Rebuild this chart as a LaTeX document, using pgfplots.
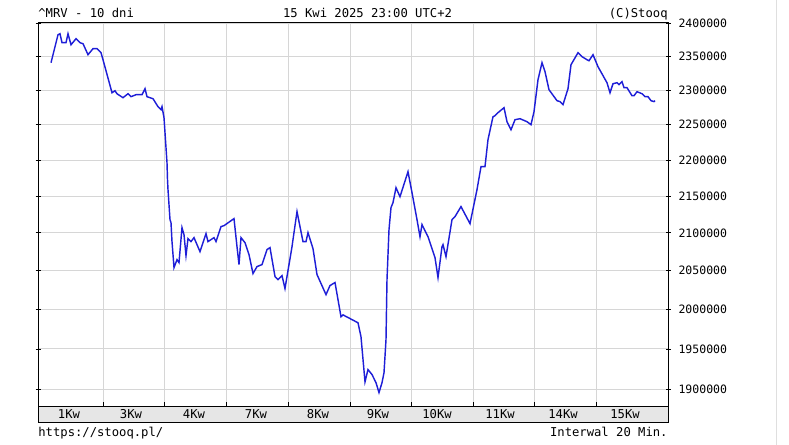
\documentclass[border=0pt]{standalone}
\usepackage{pgfplots}
\pgfplotsset{compat=1.18}
\usepackage{fontspec}
\setmainfont{DejaVu Sans Mono}
\definecolor{linecol}{RGB}{30,30,215}
\definecolor{gridcol}{RGB}{214,214,214}
\definecolor{bandcol}{RGB}{230,230,230}
\newcommand{\stfont}{\fontsize{6.1}{7}\selectfont}
\newcommand{\ytfont}{\fontsize{5.75}{7}\selectfont}
\begin{document}
\begin{tikzpicture}
\useasboundingbox (0pt,0pt) rectangle (394.5pt,222.5pt);
\draw[line width=0.5pt, fill=bandcol] (19pt,11pt) rectangle (334pt,19pt);
\draw[gray!25, line width=0.5pt] (388pt,0pt) -- (388pt,222.5pt);
\begin{axis}[
  at={(19pt,19pt)}, anchor=south west,
  scale only axis, width=315pt, height=192pt,
  xmin=38, xmax=668,
  ymode=log, ymin=1879600, ymax=2401530,
  xtick={103,164,226,288,350,411,473,534,596},
  xticklabels={},
  extra x ticks={69,131,194,256,318,378,437,500,563,625},
  extra x tick labels={1Kw,3Kw,4Kw,7Kw,8Kw,9Kw,10Kw,11Kw,14Kw,15Kw},
  extra x tick style={grid=none, major tick length=0pt,
     tick label style={anchor=base, yshift=-5.75pt}},
  xtick pos=bottom, xtick align=inside,
  ytick={1900000,1950000,2000000,2050000,2100000,2150000,2200000,2250000,2300000,2350000,2400000},
  yticklabels={1900000,1950000,2000000,2050000,2100000,2150000,2200000,2250000,2300000,2350000,2400000},
  yminorticks=false,
  ytick pos=both, ytick align=center,
  yticklabel pos=right,
  yticklabel style={xshift=0.5pt, font=\ytfont},
  major tick length=2.5pt,
  grid=major,
  major grid style={gridcol, line width=0.5pt},
  axis line style={black, line width=0.5pt},
  tick style={black, line width=0.4pt},
  tick label style={font=\stfont, text=black},
  /pgf/number format/assume math mode=true,
  clip=true,
]
\addplot[linecol, line width=0.72pt] coordinates {
(51,2341000) (58,2383200) (60,2384700) (62,2371100) (66,2371100) (68,2384700)
(71,2368000) (76,2377100) (80,2371100) (83,2369600) (88,2353000) (93,2362000)
(97,2362000) (101,2356000) (103,2345500) (112,2296600) (115,2299500) (117,2295100)
(123,2289300) (128,2295100) (131,2290800) (136,2293700) (142,2293700) (145,2302500)
(147,2290800) (153,2287800) (158,2276200) (161,2271800) (162,2276200) (164,2260300)
(165,2238700) (167,2196300) (167.5,2172600) (168,2158800) (170,2117800) (171,2113800)
(172,2088300) (174,2053900) (177,2064400) (179,2060500) (182,2107000) (184,2097600)
(186,2069700) (188,2092300) (191,2088300) (194,2093600) (200,2075000) (206,2098900)
(208,2088300) (214,2093600) (216,2088300) (221,2108400) (224,2109700) (234,2119200)
(237,2081600) (239,2057900) (241,2093600) (245,2086900) (249,2071000) (253,2046100)
(257,2055200) (262,2057900) (267,2077700) (270,2080300) (275,2042200) (278,2038300)
(282,2043500) (285,2026600) (292,2081600) (297,2128700) (303,2088300) (306,2088300)
(308,2100300) (313,2079000) (317,2044800) (326,2018800) (330,2030500) (335,2034400)
(341,1990700) (343,1993200) (358,1983100) (361,1965400) (365,1909800) (368,1924500)
(372,1918400) (376,1908600) (379,1896400) (382,1908600) (384,1920800) (386,1961700)
(387,2038300) (389,2104300) (391,2134100) (393,2140900) (396,2161500) (400,2149100)
(408,2183700) (412,2154600) (417,2117800) (420,2094900) (422,2111100) (428,2094900)
(435,2067100) (438,2040900) (442,2081600) (443,2084300) (446,2068400) (452,2117800)
(455,2121900) (461,2135500) (470,2112400) (477,2158800) (481,2190700) (485,2190700)
(488,2228800) (493,2261700) (495,2263100) (498,2267500) (504,2274700) (507,2254500)
(511,2243000) (515,2257400) (520,2258800) (527,2254500) (531,2250200) (534,2268900)
(538,2315700) (542,2341000) (545,2327600) (549,2301000) (557,2284900) (560,2283500)
(563,2279100) (568,2302500) (571,2338000) (578,2356000) (582,2350000) (587,2345500)
(589,2344000) (593,2353000) (598,2335000) (607,2311300) (610,2296600) (613,2309800)
(617,2311300) (619,2308400) (622,2312800) (624,2303900) (627,2303900) (632,2292200)
(634,2292200) (637,2298100) (642,2295100) (645,2290800) (648,2290800) (651,2284900)
(654,2283500) (655,2284900)
};
\end{axis}
\node[anchor=base west, inner sep=0pt, font=\stfont] at (19pt,213.5pt) {\textasciicircum MRV - 10 dni};
\node[anchor=base, inner sep=0pt, font=\stfont] at (183.75pt,213.5pt) {15 Kwi 2025 23:00 UTC+2};
\node[anchor=base east, inner sep=0pt, font=\stfont] at (334pt,213.5pt) {(C)Stooq};
\node[anchor=base west, inner sep=0pt, font=\stfont] at (19pt,4pt) {https://stooq.pl/};
\node[anchor=base east, inner sep=0pt, font=\stfont] at (334pt,4pt) {Interwal 20 Min.};
\end{tikzpicture}
\end{document}
